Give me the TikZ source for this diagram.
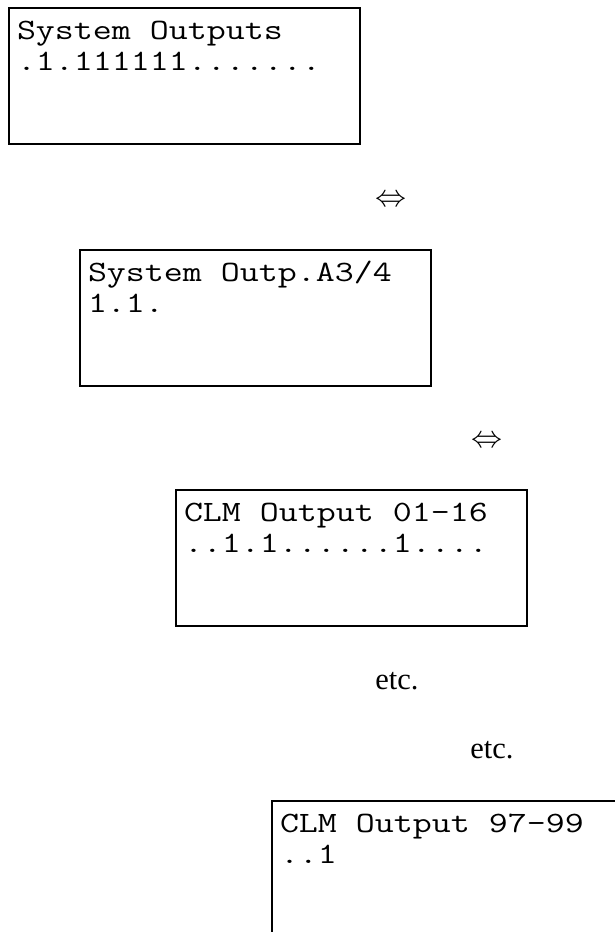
\documentclass[tikz,border=0pt]{standalone}
\usepackage{fontspec}
\setmainfont{Liberation Serif}
\setmonofont[FakeStretch=1.25]{Latin Modern Mono}

\tikzset{
    screen/.style={draw, line width=2pt, anchor=north west, align=left,
        text width=335pt, inner xsep=8pt, inner ysep=0pt,
        text height=31pt, text depth=105pt,
        font=\fontsize{29.5}{31}\selectfont\ttfamily,
        execute at begin node={\spaceskip=\fontcharwd\font`0\relax}},
    swap/.style={anchor=center, scale=3.1},
    more/.style={anchor=base, font=\fontsize{30.5}{31}\selectfont}
}

\begin{document}
\begin{tikzpicture}[x=1pt, y=-1pt]
    \useasboundingbox (0,0) rectangle (615,932);

    % Screens {s1, s2, s3, s4}
    \node [screen] (s1) at (8,7)     {System Outputs\\.1.111111.......};
    \node [screen] (s2) at (79,249)  {System Outp.A3/4\\1.1.};
    \node [screen] (s3) at (175,489) {CLM Output 01-16\\..1.1......1....};
    \node [screen] (s4) at (271,800) {CLM Output 97-99\\..1};

    % Toggles and gaps
    \node [swap] (sw1) at (391,201) {$\Leftrightarrow$};
    \node [swap] (sw2) at (487,442) {$\Leftrightarrow$};
    \node [more] (etc1) at (397,689) {etc.};
    \node [more] (etc2) at (492,758) {etc.};

\end{tikzpicture}
\end{document}
